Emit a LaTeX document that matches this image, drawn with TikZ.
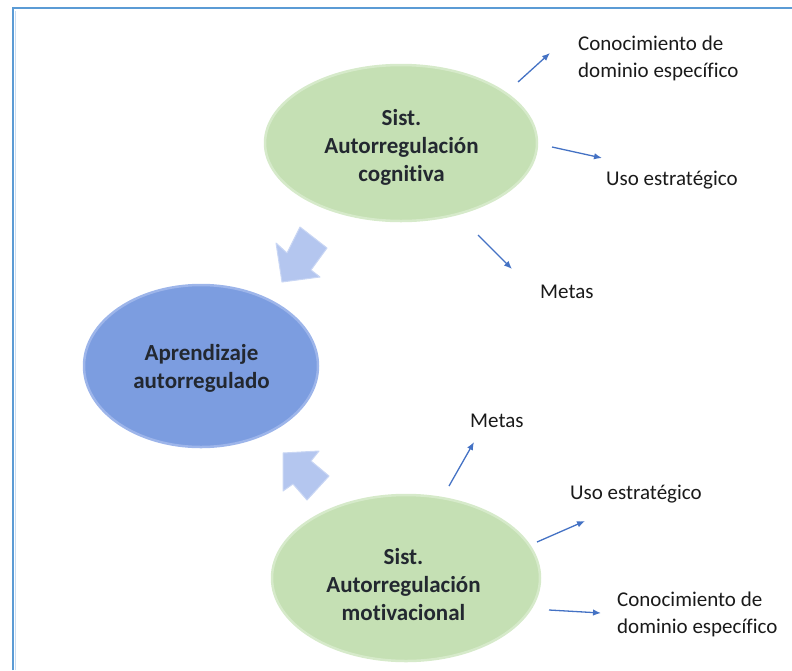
\documentclass[tikz,border=0pt]{standalone}
\usepackage{fontspec}
\setmainfont{Carlito}[RawFeature={-liga;-clig;-calt}]
\usetikzlibrary{shapes.geometric,arrows.meta}

\definecolor{frameblue}{HTML}{5B9BD5}
\definecolor{frameinner}{HTML}{C9DDF2}
\definecolor{ovalgreen}{HTML}{C5E0B4}
\definecolor{ovalgreenrim}{HTML}{D6EACA}
\definecolor{ovalblue}{HTML}{7C9DE0}
\definecolor{ovalbluerim}{HTML}{9DB5EA}
\definecolor{blockblue}{HTML}{B4C6EF}
\definecolor{blockrim}{HTML}{C9D6F4}
\definecolor{linkblue}{HTML}{4472C4}
\definecolor{ovaltext}{HTML}{232830}
\definecolor{labeltext}{HTML}{1A1A1A}

\tikzset{
  greenoval/.style={ellipse, inner sep=0pt, fill=ovalgreen, draw=ovalgreenrim, line width=2.5pt},
  blueoval/.style={ellipse, inner sep=0pt, fill=ovalblue, draw=ovalbluerim, line width=2.5pt},
  ovallabel/.style={align=center, text=ovaltext, font=\fontsize{23}{28}\selectfont\bfseries, inner sep=0pt},
  sidelabel/.style={align=left, anchor=west, text=labeltext, font=\fontsize{21}{27}\selectfont, inner sep=0pt},
  blockarrow/.style={fill=blockblue, draw=blockrim, line width=1pt, line join=round},
  link/.style={draw=linkblue, line width=1.3pt, -{Latex[length=8pt,width=6.5pt]}}
}

\begin{document}
\begin{tikzpicture}[x=1pt,y=-1pt]
\useasboundingbox (0,0) rectangle (792,670);

% page frame (top and left edges)
\draw[frameblue, line width=2.2pt] (13,670) -- (13,8) -- (792,8);
\draw[frameinner, line width=1pt] (15.6,670) -- (15.6,10.6);

% central and satellite ovals
\node[greenoval, minimum width=272pt, minimum height=156pt] (cog) at (401,143) {};
\node[ovallabel] (cogtext) at (401.5,147.5) {Sist.\\Autorregulación\\cognitiva};

\node[greenoval, minimum width=268pt, minimum height=166pt] (mot) at (406,578) {};
\node[ovallabel] (mottext) at (403.5,584.5) {Sist.\\Autorregulación\\motivacional};

\node[blueoval, minimum width=234pt, minimum height=162pt] (apr) at (201,366) {};
\node[ovallabel] (aprtext) at (201.5,368.5) {Aprendizaje\\autorregulado};

% block arrows feeding the central oval
\draw[blockarrow] (282,282) -- (276,243) -- (287,253) -- (300,227) -- (327,248) -- (311,270) -- (320,277) -- cycle;
\draw[blockarrow] (283,453) -- (319,451) -- (311,461) -- (329,476) -- (307,500) -- (293,484) -- (283,491) -- cycle;

% labels
\node[sidelabel] (cogdom) at (578,58.5) {Conocimiento de\\dominio específico};
\node[sidelabel] (coguso) at (606,180) {Uso estratégico};
\node[sidelabel] (cogmet) at (540,292) {Metas};

\node[sidelabel] (motmet) at (470,421) {Metas};
\node[sidelabel] (motuso) at (570,494) {Uso estratégico};
\node[sidelabel] (motdom) at (617,614.5) {Conocimiento de\\dominio específico};

% link end points
\coordinate (c1s) at (518,82);  \coordinate (c1e) at (550,53);
\coordinate (c2s) at (552,147); \coordinate (c2e) at (602,158);
\coordinate (c3s) at (478,235); \coordinate (c3e) at (512,269);
\coordinate (m1s) at (449,486); \coordinate (m1e) at (474,442);
\coordinate (m2s) at (537,542); \coordinate (m2e) at (585,521);
\coordinate (m3s) at (549,610); \coordinate (m3e) at (601,613);

\draw[link] (c1s) -- (c1e);
\draw[link] (c2s) -- (c2e);
\draw[link] (c3s) -- (c3e);
\draw[link] (m1s) -- (m1e);
\draw[link] (m2s) -- (m2e);
\draw[link] (m3s) -- (m3e);
\end{tikzpicture}
\end{document}
